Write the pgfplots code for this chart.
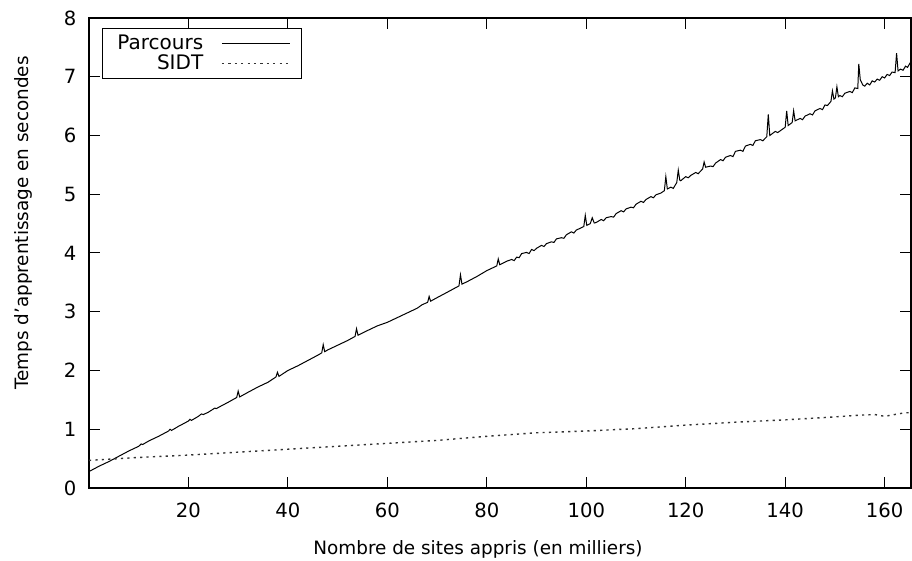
\documentclass[border=0pt]{standalone}
\usepackage{pgfplots}
\pgfplotsset{compat=1.18}
\usepackage{fontspec}
\setmainfont{DejaVu Sans}
\begin{document}
\fontsize{9.2}{11}\selectfont
\begin{tikzpicture}
\useasboundingbox (-44.5pt,-36.5pt) rectangle (411.5pt,244pt);
\begin{axis}[
  at={(0,0)}, anchor=south west,
  scale only axis, width=411pt, height=235pt,
  xmin=0, xmax=165.3, ymin=0, ymax=8,
  xtick={20,40,...,160}, ytick={0,1,...,8},
  tick align=inside, major tick length=5.5pt,
  tick style={black, line width=0.5pt},
  axis line style={line width=0.6pt},
  /pgf/number format/assume math mode=true,
  ticklabel style={font=\fontsize{9.8}{11}\selectfont},
  xticklabel style={yshift=-4pt},
  yticklabel style={xshift=-3pt},
  xlabel={Nombre de sites appris (en milliers)},
  ylabel={Temps d{\char"27}apprentissage en secondes},
  label style={font=\fontsize{9.2}{11}\selectfont},
  xlabel style={at={(axis description cs:0.5,0)}, anchor=center, xshift=-11pt, yshift=-30.5pt},
  ylabel style={at={(axis description cs:0,0.5)}, anchor=center, xshift=15pt, yshift=33pt},
  legend plot pos=right,
  legend cell align=right,
  legend style={at={(0,1)}, anchor=north west, xshift=6.5pt, yshift=-5pt,
    draw=black, line width=0.5pt, inner xsep=5.5pt, inner ysep=1pt,
    row sep=-2.5pt, column sep=7pt,
    font=\fontsize{10}{11}\selectfont},
  legend image code/.code={\draw[#1] (0pt,0pt) -- (34pt,0pt);},
  clip=true,
]
\addplot[black, line width=0.5pt] coordinates {
(0,0.28) (2,0.37) (4,0.45) (6,0.54) (8,0.63) (10,0.71) (10.5,0.75) (10.8,0.74) (12,0.80) (14,0.88) (16,0.97) (16.3,1.00) (16.6,0.98) (18,1.05)
(20,1.14) (20.3,1.17) (20.6,1.15) (22,1.22) (22.6,1.26) (23,1.25) (24,1.29) (25.3,1.36) (25.6,1.35) (26,1.37) (28,1.46) (29.7,1.54) (30,1.65) (30.3,1.55)
(32,1.63) (34,1.72) (36,1.80) (37.6,1.89) (37.9,1.97) (38.2,1.90) (40,2.00) (42,2.08) (44,2.17) (46,2.26) (46.8,2.30) (47.1,2.44) (47.4,2.32) (48,2.35)
(50,2.43) (52,2.51) (53.5,2.58) (53.8,2.71) (54.1,2.60) (56,2.68) (58,2.76) (60,2.82) (62,2.90) (64,2.98) (66,3.06) (67,3.12) (68.1,3.16) (68.4,3.26) (68.7,3.18)
(70,3.24) (72,3.33) (74.4,3.44) (74.7,3.63) (75.0,3.47) (76,3.51) (78,3.60) (80,3.70) (82.0,3.78) (82.3,3.90) (82.6,3.80) (84,3.86) (85,3.89) (85.5,3.87) (86,3.93) (86.5,3.92) (87,3.99) (88,4.01)
(88.5,3.99) (89,4.06) (89.5,4.04) (90,4.08) (91,4.13) (91.5,4.11) (92,4.16) (93,4.19) (93.5,4.18) (94,4.24) (95,4.26) (95.5,4.25) (96,4.31) (97,4.36) (97.5,4.34) (98,4.39) (99.5,4.45) (99.8,4.64) (100.1,4.47) (100.8,4.50) (101.2,4.60) (101.6,4.51)
(102,4.52) (103,4.57) (103.5,4.55) (104,4.60) (105,4.62) (105.5,4.61) (106,4.67) (107,4.72) (107.5,4.70) (108,4.75) (109,4.78) (109.5,4.77) (110,4.83) (111,4.88) (111.5,4.86) (112,4.91) (113,4.96) (113.5,4.94) (114,4.99) (115,5.02) (115.7,5.06) (116,5.30) (116.3,5.09)
(117,5.12) (117.5,5.10) (118.2,5.20) (118.5,5.41) (118.8,5.24) (119,5.23) (120,5.30) (120.5,5.28) (121,5.32) (122,5.37) (122.5,5.35) (123.4,5.43) (123.7,5.55) (124,5.46) (125,5.48) (125.5,5.47) (126,5.53) (127,5.59) (127.5,5.57) (128,5.63) (129,5.66) (129.5,5.64)
(130,5.73) (131,5.75) (131.5,5.73) (132,5.82) (133,5.85) (133.5,5.83) (134,5.91) (135,5.93) (135.5,5.91) (136.3,5.98) (136.6,6.36) (136.9,6.00) (138,6.07) (138.5,6.05) (139,6.08) (140,6.14) (140.3,6.42) (140.6,6.17) (141.4,6.22) (141.7,6.42) (142,6.25)
(143,6.29) (143.5,6.27) (144,6.33) (145,6.37) (145.5,6.35) (146,6.42) (147,6.46) (147.5,6.44) (148,6.52) (148.5,6.51) (149.2,6.58) (149.5,6.76) (149.8,6.62) (150.1,6.64) (150.4,6.83) (150.7,6.66) (151,6.68) (151.5,6.66) (152,6.72) (153,6.75) (153.5,6.73) (154,6.81)
(154.6,6.80) (154.8,7.22) (155.1,6.95) (155.6,6.86) (156,6.84) (156.5,6.89) (157,6.86) (157.5,6.93) (158,6.91) (158.5,6.96) (159,6.94) (159.5,7.00) (160,6.98) (160.5,7.04) (161,7.02) (161.5,7.08) (162.1,7.07) (162.4,7.40) (162.7,7.10) (163.2,7.13) (163.7,7.11) (164.2,7.18) (164.6,7.16) (165.3,7.26)
};
\addlegendentry{Parcours}
\addplot[black!80, line width=0.7pt, dash pattern=on 1.1pt off 2.1pt] coordinates {
(0,0.47) (10,0.52) (20,0.56) (30,0.61) (40,0.66) (50,0.71) (60,0.76) (70,0.81) (80,0.88) (90,0.94) (100,0.97) (110,1.01)
(120,1.07) (130,1.12) (140,1.16) (150,1.21) (155,1.24) (158,1.25) (160,1.22) (162,1.25) (164,1.28) (165.3,1.28)
};
\addlegendentry{SIDT}
\end{axis}
\end{tikzpicture}
\end{document}
